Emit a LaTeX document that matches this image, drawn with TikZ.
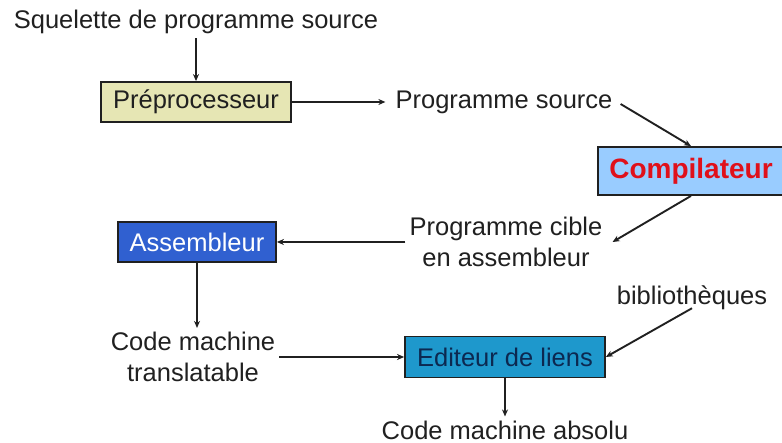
\documentclass[tikz,border=0pt]{standalone}
\usepackage{fontspec}
\setmainfont{Liberation Sans}
\usetikzlibrary{arrows.meta}
\definecolor{preFill}{HTML}{E6E6B4}
\definecolor{compFill}{HTML}{99CCFF}
\definecolor{compText}{HTML}{E0101A}
\definecolor{asmFill}{HTML}{3060D0}
\definecolor{editFill}{HTML}{1E98CC}
\definecolor{editText}{HTML}{0C2850}
\definecolor{ink}{HTML}{202020}
\begin{document}
\begin{tikzpicture}[x=1pt,y=-1pt,
  lbl/.style={font=\fontsize{25.5}{31}\selectfont, text=ink, inner sep=4pt, align=center},
  stage/.style={draw=ink, line width=1.8pt, font=\fontsize{25.5}{30}\selectfont, inner sep=0pt},
  flow/.style={draw=ink, line width=1.9pt, -{Stealth[length=7pt,width=6pt]}}]
  \useasboundingbox (0,0) rectangle (782,443);

  % processing stages
  \node[stage, fill=preFill, text=ink, minimum width=190, minimum height=40] (pre) at (196,102) {Préprocesseur};
  \node[stage, fill=compFill, text=compText, minimum width=186, minimum height=48,
        font=\fontsize{28}{32}\selectfont\bfseries] (comp) at (691,171) {Compilateur};
  \node[stage, fill=asmFill, text=white, minimum width=158, minimum height=40] (asm) at (197,242) {Assembleur};
  \node[stage, fill=editFill, text=editText, minimum width=200, minimum height=41] (edit) at (505,357) {Editeur de liens};

  % intermediate products
  \node[lbl] (squel) at (196,22) {Squelette de programme source};
  \node[lbl] (src) at (504,102) {Programme source};
  \node[lbl] (cible) at (506,242) {Programme cible\\en assembleur};
  \node[lbl] (trans) at (193,357) {Code machine\\translatable};
  \node[lbl] (biblio) at (692,298) {bibliothèques};
  \node[lbl] (absolu) at (505,430) {Code machine absolu};

  % connectors
  \draw[flow] (squel) -- (pre);
  \draw[flow] (pre.east) -- ([xshift=-6pt]src.west);
  \draw[flow] ([xshift=4pt,yshift=-2pt]src.east) -- (comp.north);
  \draw[flow] (comp.south) -- ([xshift=6pt]cible.east);
  \draw[flow] (cible.west) -- (asm.east);
  \draw[flow] (asm.south) -- (asm.south |- trans.north);
  \draw[flow] (trans.east) -- (edit.west);
  \draw[flow] ([yshift=6pt]biblio.south) -- (edit.east);
  \draw[flow] (edit.south) -- (absolu.north);
\end{tikzpicture}
\end{document}
